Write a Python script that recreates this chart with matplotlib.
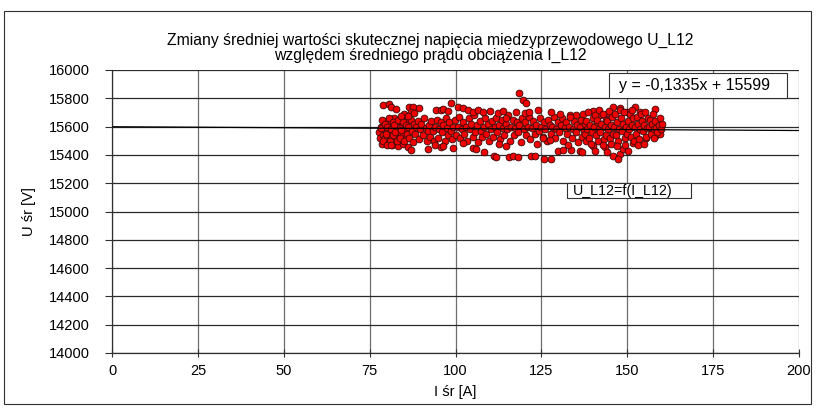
import matplotlib
matplotlib.use("Agg")
import matplotlib.pyplot as plt
from matplotlib.patches import Rectangle

plt.rcParams['font.family'] = ['Liberation Sans', 'DejaVu Sans']

# --- data ---
# upper fringe of the cloud
i_upper = [79.0, 80.5, 81.3, 82.7, 86.6, 87.5, 89.3, 87.1, 88.0, 86.1, 84.2, 94.4, 95.8,
           98.7, 96.3, 97.7, 100.6, 102.1, 103.6, 105.0, 106.5, 108.0, 109.9, 112.3, 113.8, 114.7,
           118.4, 119.6, 120.4, 117.6, 120.1, 121.5, 124.0, 127.9, 130.3, 135.1, 133.2,
           140.1, 145.9, 147.9, 152.2, 158.1, 153.7, 142.0, 144.5, 149.8]
u_upper = [15755, 15760, 15736, 15722, 15737, 15741, 15732, 15706, 15694, 15675, 15675, 15718, 15718,
           15765, 15722, 15711, 15741, 15734, 15718, 15704, 15718, 15704, 15711, 15699, 15711, 15664,
           15835, 15789, 15766, 15706, 15697, 15701, 15720, 15706, 15690, 15683, 15667,
           15710, 15740, 15729, 15740, 15724, 15706, 15683, 15694, 15706]

# lower fringe of the cloud
i_lower = [78.8, 80.2, 81.2, 86.1, 87.1, 91.9, 93.9, 95.8,
           96.3, 99.2, 102.1, 105.0, 106.0, 108.4, 111.3, 111.8, 115.7, 112.8, 114.7,
           116.7, 118.1, 122.0, 123.0, 125.9, 127.9, 129.8, 131.2, 133.7, 136.1, 132.7, 127.4, 125.4,
           136.7, 140.1, 140.6, 143.5, 144.0, 145.9, 147.9, 147.4, 148.8, 150.3, 151.7, 155.6,
           158.1, 159.5, 157.1]
u_lower = [15495, 15471, 15471, 15459, 15436, 15440, 15471, 15455,
           15464, 15452, 15483, 15452, 15440, 15417, 15393, 15382, 15382, 15476, 15464,
           15391, 15384, 15391, 15391, 15368, 15372, 15430, 15437, 15437, 15425, 15471, 15506, 15517,
           15418, 15464, 15430, 15453, 15418, 15395, 15407, 15372, 15441, 15430, 15487, 15522,
           15533, 15545, 15556]

# core of the cloud, 78-136 A
i_core_a = [77.8, 78.0, 78.3, 78.5, 78.9, 79.3, 79.6, 79.9, 80.6, 80.8, 81.4, 81.7, 82.0, 82.3,
            83.0, 83.3, 83.6, 84.0, 84.3, 84.7, 85.0, 85.3, 85.7, 86.0,
            78.2, 78.6, 79.1, 79.5, 79.8, 80.1, 80.5, 80.9, 81.3, 81.8, 81.9,
            82.1, 82.5, 82.9, 83.4, 83.8, 83.9, 84.2, 84.6, 85.1, 85.5, 85.9,
            86.2, 86.5, 86.9, 87.3, 87.7, 87.9, 88.2, 88.6, 89.0, 89.4, 89.8,
            90.1, 90.5, 90.9, 91.3, 91.7, 91.9, 92.2, 92.6, 93.0, 93.4, 93.8,
            94.1, 94.5, 94.9, 95.3, 95.7, 96.0, 96.4, 96.8, 97.2, 97.6, 97.9,
            98.2, 98.6, 99.0, 99.4, 99.8, 100.2, 100.6, 101.0, 101.4, 101.8,
            102.2, 102.6, 103.0, 103.4, 103.8, 104.2, 104.6, 105.0, 105.4, 105.8,
            106.2, 106.6, 107.0, 107.4, 107.8, 108.2, 108.6, 109.0, 109.4, 109.8,
            110.2, 110.6, 111.0, 111.4, 111.8, 112.2, 112.6, 113.0, 113.4, 113.8,
            114.2, 114.6, 115.0, 115.4, 115.8, 116.2, 116.6, 117.0, 117.4, 117.8,
            118.2, 118.6, 119.0, 119.4, 119.8, 120.2, 120.6, 121.0, 121.4, 121.8,
            122.2, 122.6, 123.0, 123.4, 123.8, 124.2, 124.6, 125.0, 125.4, 125.8,
            126.2, 126.6, 127.0, 127.4, 127.8, 128.2, 128.6, 129.0, 129.4, 129.8,
            130.2, 130.6, 131.0, 131.4, 131.8, 132.2, 132.6, 133.0, 133.4, 133.8,
            134.2, 134.6, 135.0, 135.4, 135.8]
u_core_a = [15560, 15520, 15600, 15480, 15540, 15640, 15580, 15500, 15620, 15540, 15470, 15600, 15660, 15520,
            15575, 15460, 15640, 15545, 15610, 15480, 15690, 15580, 15520, 15650,
            15590, 15650, 15510, 15620, 15550, 15600, 15660, 15500, 15580, 15630, 15540,
            15610, 15560, 15500, 15650, 15590, 15520, 15575, 15630, 15500, 15610, 15550,
            15600, 15520, 15650, 15570, 15490, 15620, 15550, 15600, 15640, 15510, 15580,
            15620, 15540, 15660, 15590, 15500, 15570, 15610, 15530, 15640, 15570, 15500,
            15600, 15650, 15520, 15580, 15630, 15560, 15610, 15500, 15660, 15590, 15540,
            15630, 15570, 15510, 15600, 15650, 15540, 15600, 15670, 15520, 15580,
            15630, 15550, 15600, 15500, 15660, 15580, 15620, 15530, 15680, 15560,
            15610, 15490, 15640, 15570, 15530, 15600, 15660, 15550, 15620, 15500,
            15580, 15640, 15530, 15600, 15660, 15560, 15610, 15510, 15650, 15590,
            15540, 15620, 15580, 15680, 15500, 15600, 15650, 15540, 15590, 15630,
            15560, 15610, 15490, 15660, 15580, 15630, 15540, 15600, 15670, 15510,
            15590, 15640, 15550, 15610, 15480, 15570, 15660, 15600, 15530, 15630,
            15580, 15500, 15650, 15610, 15550, 15600, 15670, 15520, 15580, 15630,
            15560, 15610, 15660, 15500, 15590, 15630, 15550, 15600, 15680, 15520,
            15580, 15640, 15560, 15610, 15490]

# core of the cloud, 136-160 A (densest part)
i_core_b = [136.1, 136.4, 136.7, 137.0, 137.3, 137.6, 137.9, 137.8,
            138.1, 138.4, 138.7, 139.0, 139.3, 139.6, 139.9, 139.5,
            140.2, 140.5, 140.8, 141.1, 141.4, 141.7, 141.9, 141.3,
            142.2, 142.5, 142.8, 143.1, 143.4, 143.7, 143.9, 142.9,
            144.2, 144.5, 144.8, 145.1, 145.4, 145.7, 145.9, 145.2,
            146.2, 146.5, 146.8, 147.1, 147.4, 147.7, 147.9, 146.9,
            148.2, 148.5, 148.8, 149.1, 149.4, 149.7, 149.9, 149.2,
            150.2, 150.5, 150.8, 151.1, 151.4, 151.7, 151.9, 151.3,
            152.2, 152.5, 152.8, 153.1, 153.4, 153.7, 153.9, 153.2,
            154.2, 154.5, 154.8, 155.1, 155.4, 155.7, 155.9, 155.0,
            156.2, 156.5, 156.8, 157.1, 157.4, 157.7, 157.9,
            158.2, 158.5, 158.8, 159.1, 159.4, 159.7, 160.0]
u_core_b = [15600, 15650, 15530, 15690, 15570, 15620, 15500, 15550,
            15640, 15580, 15700, 15520, 15610, 15560, 15660, 15480,
            15600, 15680, 15540, 15630, 15500, 15580, 15720, 15650,
            15560, 15620, 15690, 15510, 15600, 15650, 15540, 15470,
            15640, 15580, 15710, 15520, 15610, 15670, 15550, 15480,
            15600, 15690, 15540, 15630, 15500, 15580, 15720, 15460,
            15660, 15570, 15620, 15700, 15520, 15600, 15550, 15470,
            15640, 15580, 15690, 15530, 15610, 15660, 15500, 15720,
            15600, 15550, 15670, 15620, 15510, 15580, 15690, 15470,
            15640, 15570, 15610, 15700, 15530, 15590, 15660, 15480,
            15600, 15650, 15550, 15620, 15690, 15580, 15520,
            15640, 15590, 15560, 15610, 15660, 15580, 15620]

# linear trend from the chart: y = -0,1335x + 15599
trend_slope = -0.1335
trend_icpt = 15599
trend_x = [0, 200]

x_ticks = [0, 25, 50, 75, 100, 125, 150, 175, 200]
y_ticks = list(range(14000, 16001, 200))

fig = plt.figure(figsize=(8.16, 4.08), dpi=100)
ax = fig.add_axes([112 / 816, 1 - 353 / 408, (799 - 112) / 816, (353 - 70) / 408])

# outer chart frame
fig.patches.append(Rectangle((4 / 816, 4 / 408), 807 / 816, 393 / 408, transform=fig.transFigure,
                             fill=False, edgecolor='#303030', linewidth=0.8))

ax.set_xlim(0, 200)
ax.set_ylim(14000, 16000)
ax.set_xticks(x_ticks)
ax.set_yticks(y_ticks)
ax.xaxis.grid(True, color='#6e6e6e', linewidth=0.9)
ax.yaxis.grid(True, color='#2a2a2a', linewidth=0.9)
ax.set_axisbelow(True)
for s in ['top', 'right']:
    ax.spines[s].set_visible(False)
for s in ['left', 'bottom']:
    ax.spines[s].set_color('#303030')
    ax.spines[s].set_linewidth(0.9)
ax.tick_params(axis='y', direction='out', length=5, pad=11, labelsize=10.5, color='#303030')
ax.tick_params(axis='x', direction='inout', length=6, pad=5, labelsize=10.5, color='#303030')

all_i = i_core_a + i_upper + i_lower + i_core_b
all_u = u_core_a + u_upper + u_lower + u_core_b
ax.scatter(all_i, all_u, s=24, facecolor='#f00000', edgecolor='#3a0a0a', linewidth=0.6, zorder=3)

ty = [trend_slope * x + trend_icpt for x in trend_x]
ax.plot(trend_x, ty, color='black', linewidth=0.9, zorder=4)

ax.set_xlabel('I śr [A]', fontsize=10.5, labelpad=5)
ax.set_ylabel('U śr [V]', fontsize=10.5, labelpad=9)

fig.text(430 / 816, 1 - 48 / 408,
         'Zmiany średniej wartości skutecznej napięcia miedzyprzewodowego U_L12\n'
         'względem średniego prądu obciążenia I_L12',
         ha='center', va='center', fontsize=11.3, linespacing=1.0)

# trend equation label
ax.add_patch(Rectangle((0.723, 0.900), 0.2595, 0.0905, transform=ax.transAxes, facecolor='white',
                       edgecolor='#303030', linewidth=0.8, zorder=6, clip_on=False))
ax.text(0.848, 0.945, 'y = -0,1335x + 15599', transform=ax.transAxes, ha='center', va='center',
        fontsize=11.5, zorder=7)

# series legend
ax.add_patch(Rectangle((0.662, 0.5466), 0.1806, 0.0552, transform=ax.transAxes, facecolor='white',
                       edgecolor='#303030', linewidth=0.8, zorder=6))
ax.text(0.6706, 0.574, 'U_L12=f(I_L12)', transform=ax.transAxes, ha='left', va='center',
        fontsize=10.3, zorder=7)

fig.savefig('out.png', dpi=100)
